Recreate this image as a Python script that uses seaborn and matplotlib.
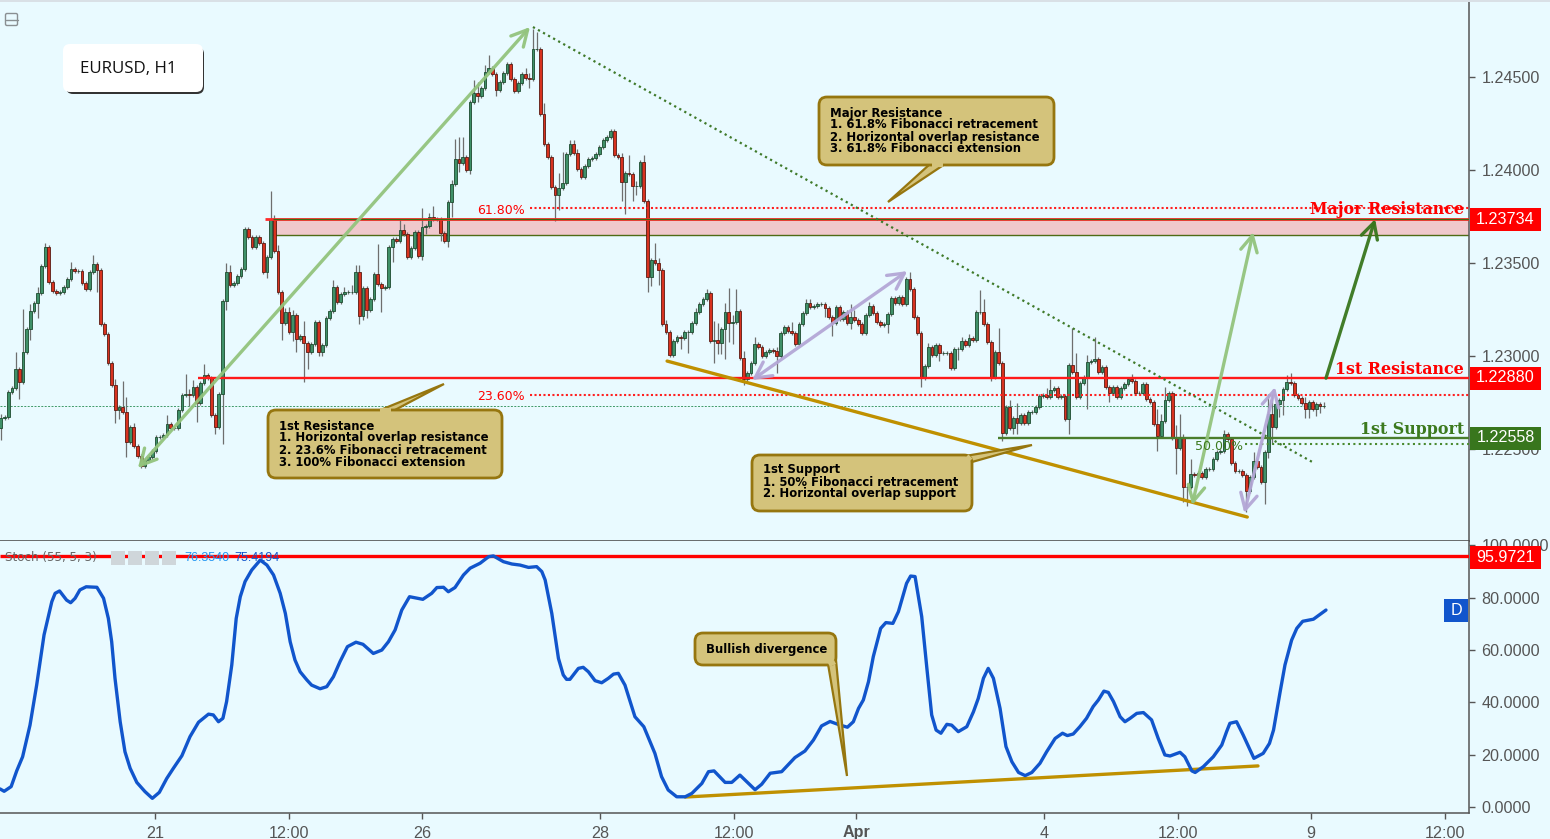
import numpy as np
import matplotlib
matplotlib.use("Agg")
import matplotlib.pyplot as plt
import seaborn as sns
from matplotlib.patches import FancyBboxPatch, Polygon, Rectangle

# ------------------ data ------------------
first_open = 1.22610
closes = [
1.22665,1.22670,1.22805,1.22827,1.22929,1.22859,1.23020,1.23144,1.23240,1.23284,1.23338,1.23483,1.23585,1.23397,1.23348,1.23338,1.23343,1.23370,1.23413,1.23467,
1.23456,1.23456,1.23391,1.23359,1.23450,1.23494,1.23461,1.23171,1.23117,1.22961,1.22843,1.22708,1.22724,1.22697,1.22536,1.22617,1.22515,1.22461,1.22407,1.22440,
1.22455,1.22488,1.22563,1.22563,1.22574,1.22633,1.22611,1.22611,1.22708,1.22789,1.22794,1.22789,1.22832,1.22746,1.22853,1.22896,1.22880,1.22681,1.22617,1.22794,
1.23295,1.23450,1.23381,1.23391,1.23429,1.23467,1.23682,1.23639,1.23585,1.23639,1.23607,1.23450,1.23531,1.23736,1.23564,1.23343,1.23176,1.23235,1.23128,1.23219,
1.23090,1.23106,1.23069,1.23020,1.23063,1.23182,1.23020,1.23058,1.23203,1.23240,1.23370,1.23290,1.23332,1.23343,1.23343,1.23343,1.23450,1.23214,1.23365,1.23246,
1.23305,1.23440,1.23386,1.23365,1.23370,1.23585,1.23628,1.23617,1.23677,1.23655,1.23531,1.23580,1.23666,1.23537,1.23693,1.23698,1.23747,1.23736,1.23736,1.23660,
1.23617,1.23827,1.23924,1.24059,1.24037,1.24069,1.24000,1.24365,1.24414,1.24398,1.24440,1.24527,1.24548,1.24516,1.24430,1.24473,1.24521,1.24570,1.24489,1.24424,
1.24467,1.24516,1.24494,1.24489,1.24650,1.24650,1.24300,1.24139,1.24069,1.23908,1.23865,1.23903,1.23929,1.24085,1.24139,1.24091,1.24005,1.23962,1.24021,1.24059,
1.24064,1.24085,1.24123,1.24161,1.24177,1.24209,1.24080,1.24069,1.23935,1.23983,1.23978,1.23913,1.23913,1.24042,1.23833,1.23424,1.23515,1.23499,1.23461,1.23171,
1.23128,1.23004,1.23079,1.23101,1.23096,1.23128,1.23128,1.23176,1.23235,1.23278,1.23305,1.23338,1.23079,1.23085,1.23069,1.23144,1.23235,1.23176,1.23182,1.23240,
1.22988,1.22875,1.22907,1.22961,1.23063,1.23047,1.22999,1.23020,1.23031,1.23026,1.22999,1.23123,1.23155,1.23133,1.23123,1.23063,1.23171,1.23230,1.23284,1.23262,
1.23268,1.23278,1.23278,1.23257,1.23209,1.23176,1.23262,1.23198,1.23235,1.23176,1.23209,1.23192,1.23171,1.23123,1.23219,1.23268,1.23230,1.23182,1.23166,1.23171,
1.23225,1.23311,1.23284,1.23316,1.23278,1.23413,1.23359,1.23209,1.23123,1.22880,1.22945,1.23047,1.23004,1.23058,1.23015,1.23015,1.23015,1.22934,1.23036,1.23036,
1.23079,1.23058,1.23096,1.23085,1.23235,1.23235,1.23171,1.23074,1.22886,1.23020,1.22961,1.22584,1.22724,1.22611,1.22665,1.22638,1.22681,1.22638,1.22697,1.22697,
1.22724,1.22784,1.22789,1.22778,1.22816,1.22827,1.22778,1.22784,1.22660,1.22950,1.22913,1.22778,1.22853,1.22886,1.22966,1.22972,1.22983,1.22913,1.22940,1.22832,
1.22800,1.22832,1.22778,1.22827,1.22848,1.22875,1.22864,1.22800,1.22800,1.22848,1.22767,1.22751,1.22633,1.22568,1.22649,1.22762,1.22800,1.22558,1.22504,1.22558,
1.22294,1.22294,1.22364,1.22359,1.22369,1.22348,1.22391,1.22391,1.22445,1.22482,1.22488,1.22579,1.22552,1.22423,1.22380,1.22380,1.22359,1.22272,1.22348,1.22434,
1.22402,1.22321,1.22482,1.22687,1.22617,1.22740,1.22762,1.22821,1.22859,1.22853,1.22789,1.22773,1.22746,1.22714,1.22751,1.22714,1.22740,1.22730,1.22730,
]
upper_wick_pips = {0:2,4:9,6:23,8:4,10:3,12:2,19:4,25:5,31:3,33:14,34:8,36:2,45:5,50:11,51:3,52:4,55:6,61:5,62:4,73:15,74:2,75:3,77:2,78:3,79:3,
    82:8,90:4,93:3,95:4,96:4,97:4,102:16,108:6,109:3,114:10,116:2,117:6,122:2,123:11,124:12,125:11,128:7,129:6,131:4,132:7,142:3,143:3,144:11,145:9,147:6,
    151:8,152:17,154:2,155:2,156:2,168:2,170:10,172:3,174:4,177:9,178:3,180:2,188:2,191:2,193:10,194:9,196:5,197:13,198:4,199:12,201:4,204:4,210:2,214:5,
    218:2,219:2,230:7,231:4,235:2,246:4,251:2,260:2,262:2,265:12,266:7,270:13,273:4,275:8,283:4,284:6,290:20,291:10,294:4,296:12,306:3,313:8,314:4,315:7,
    318:7,319:13,320:2,322:8,331:2,339:5,343:11,344:11,348:4,349:5,353:3,358:2}
lower_wick_pips = {0:6,5:9,8:6,10:8,26:12,31:7,32:5,34:8,51:6,53:10,58:4,60:27,61:5,72:3,76:9,79:5,80:7,82:21,83:9,86:2,87:2,97:4,98:2,99:4,103:13,
    106:8,114:2,115:4,119:4,121:3,122:8,124:5,127:2,129:3,134:3,143:5,150:14,151:8,168:10,169:17,171:8,172:5,175:8,176:5,178:8,184:6,186:11,193:12,194:6,
    195:6,196:16,197:10,198:11,201:3,210:9,223:5,225:7,230:3,240:5,249:5,254:4,259:6,268:2,271:4,274:3,275:6,289:8,294:17,300:5,313:8,318:14,320:8,321:10,
    337:11,342:12,343:3,344:9,346:7,347:8,353:5,354:5,356:4,357:4}

stoch_bars = [-0.2,0.9,2.8,4.3,5.9,7.9,9.7,11.7,13.8,14.7,15.9,17.8,18.9,20.1,21.4,23.1,26,27.8,29.1,30,30.9,32.3,33.6,35,36.8,39,41,42.9,44.9,46.7,49,51.2,53.5,56.2,57.5,58.9,60.1,61.1,62.5,63.7,64.8,66.1,67.9,70.2,72,73.8,75.6,77,78.3,79.6,81,82.8,84.1,86.4,88.2,90,91.8,93.8,96.1,98,100.8,103.1,104.9,106.7,108.5,110.6,114.2,116.6,118,119.8,121.1,122.9,125.2,127,129.7,132,133.3,136,138.3,140.5,
142.8,145,146.4,147.3,149.1,150.9,152.2,153.1,154,156.3,157.6,159,160.8,162.6,164.4,165.8,167.1,168.9,170.3,171.6,174,177,178.8,180.6,182.9,185.2,187,189.7,191.5,193,196,197.8,200,201.4,204.1,205.9,208.2,211.3,214.9,217.6,219.9,222.1,224.4,227.1,229.1,230.7,232.1,233.4,234.8,236.1,238.1,239.5,241.4,242.9,245.1,246.2,247.4,249.2,250.6,251.9,253.1,254.4,256,257.3,259.1,261.4,263.2,264.5,265.9,267.2,268.6,270.4,272,273.6,275.4,277.2,279,281.2,
283,285.3,287.3,288.6,290.2,292,293.8,295.6,297,298.5,299.7,301.1,302.9,304.2,305.6,307.4,309.2,311.4,313.2,315,316.4,319.1,320.4,322.3,323.2,325.4,328.1,330.4,331.7,332.6,334.4,336.2,339.1,341.6,343.3,344.4,346.2,347.5,349.3,350.7,352.3,355.2,358.6]
stoch_values = [6.9,6,7.8,13.8,19.2,31.3,46.6,65.8,78.5,81.7,82.6,79.1,78.1,79.8,83,84.2,84,79.8,72.1,63.2,49.2,32.6,21.1,14.8,9.4,5.9,3.3,5.6,10.9,14.8,19.6,26.9,32.4,35.5,35.2,32.6,33.9,40.3,54.3,72.1,80.4,86.2,90.6,94.4,92.5,88.7,81.7,74,63.2,56.2,51.7,48.6,46.6,45.2,46,49.8,55.6,61.3,63,62.2,58.7,60,63.2,67.7,75.3,80.4,79.4,81.7,83.9,84,82.3,83.9,88.7,91.3,93.2,95.7,96,93.8,92.9,92.5,
91.6,91.9,90,86.8,74,56.8,50.5,48.8,48.8,53,53.4,51.7,48.3,47.5,49.2,50.8,51.1,46.6,40.3,34.5,30.7,20.5,11.6,6.5,3.9,3.9,5.2,9,13.5,13.8,9.4,9.4,12.2,10.3,6.6,8.7,12.9,13.5,18.9,21.4,25.6,31,32.7,31.3,30.5,32.6,37.7,40.9,47.9,57.5,68.3,70.5,70.2,74.7,85.5,88.3,88.1,72.8,53,35.2,29.4,28.2,31.6,31.3,28.8,30.7,36.4,41.5,49.2,53,49.2,37.7,23.1,17.3,13.2,12,13.2,16.7,
21.1,26.2,28.2,27.3,27.9,30.7,33.9,38.4,40.9,44.3,43.8,40.3,34.5,32.6,33.9,35.8,36.1,33.3,26.2,19.9,19.5,20.9,19.2,13.8,13.2,15.4,19.2,23.7,28.8,32,32.6,27.5,18.6,20.5,24.3,29.4,44.1,54.3,63.8,68.3,71,71.8,75.3]

major_res = 1.23734
major_res_low = 1.23651
first_res = 1.22880
first_sup = 1.22558
fib_618 = 1.23795
fib_236 = 1.22790
fib_500 = 1.22526
last_price = 1.22730
stoch_level = 95.9721
price_ticks = [1.225, 1.230, 1.235, 1.240, 1.245]
stoch_ticks = [0, 20, 40, 60, 80, 100]
time_tick_bars = [41.7, 78, 114, 162.2, 198.4, 231.5, 282.3, 318.6, 354.6, 390.9]
time_tick_labels = ["21", "12:00", "26", "28", "12:00", "Apr", "4", "12:00", "9", "12:00"]

# ------------------ style ------------------
BG = "#e9faff"
GREY = "#555555"
sns.set_theme(style="white")
plt.rcParams["font.family"] = ["Liberation Sans", "DejaVu Sans"]
W, H = 1550, 839
fig = plt.figure(figsize=(W / 100, H / 100), dpi=100, facecolor=BG)

def axes_px(x0, y0, x1, y1, **kw):
    return fig.add_axes([x0 / W, 1 - y1 / H, (x1 - x0) / W, (y1 - y0) / H], **kw)

ax = axes_px(0, 1, 1469, 541, facecolor=BG)
ax2 = axes_px(0, 541, 1469, 813, facecolor=BG)
XLIM = (-0.22, 397.3)

# ------------------ candles ------------------
closes_a = np.array(closes)
opens_a = np.r_[first_open, closes_a[:-1]]
bars = np.arange(len(closes_a))
tops = np.maximum(opens_a, closes_a)
bots = np.minimum(opens_a, closes_a)
highs = tops + np.array([upper_wick_pips.get(i, 1) for i in bars]) * 1e-4
lows = bots - np.array([lower_wick_pips.get(i, 1) for i in bars]) * 1e-4
up = closes_a >= opens_a

# zone, levels
ax.axhspan(major_res_low, major_res, xmin=(73.7 - XLIM[0]) / (XLIM[1] - XLIM[0]), facecolor="#f0c8cc", edgecolor="none", zorder=1)
ax.hlines(major_res_low, 73.7, XLIM[1], color="#4f6b16", lw=1.0, zorder=2)
ax.vlines(bars, lows, highs, color="#6e6e6e", lw=0.9, zorder=3)
ax.bar(bars[up], (tops - bots)[up], bottom=bots[up], width=0.74, color="#3f9068", edgecolor="#1d4a2e", linewidth=0.6, zorder=4)
ax.bar(bars[~up], (tops - bots)[~up], bottom=bots[~up], width=0.74, color="#d8321f", edgecolor="#5a1a12", linewidth=0.6, zorder=4)

ax.hlines(major_res, 71.5, XLIM[1], color="#ff2a2a", lw=2.0, zorder=5)
ax.hlines(major_res, 73.7, XLIM[1], color="#3f6a10", lw=0.9, zorder=5)
ax.hlines(first_res, 53.4, XLIM[1], color="#ff1a1a", lw=1.7, zorder=5)
ax.hlines(first_sup, 269.9, XLIM[1], color="#4a7d2c", lw=1.7, zorder=5)
ax.hlines(fib_618, 143.2, XLIM[1], color="#ff2020", lw=1.5, linestyles=(0, (1, 1.15)), zorder=5)
ax.hlines(fib_236, 143.2, XLIM[1], color="#ff2020", lw=1.5, linestyles=(0, (1, 1.15)), zorder=5)
ax.hlines(fib_500, 336.7, XLIM[1], color="#4a8a30", lw=1.5, linestyles=(0, (1, 1.6)), zorder=5)
ax.hlines(last_price, XLIM[0], 358.4, color="#3f9a68", lw=0.7, linestyles=(0, (2, 1.5)), zorder=2)

# trend lines
sns.lineplot(x=[144, 354.9], y=[1.24769, 1.22429], ax=ax, color="#3f7a2a", lw=1.6, linestyle=(0, (1, 1.6)), zorder=5)
sns.lineplot(x=[180.3, 337.3], y=[1.22972, 1.22133], ax=ax, color="#bf9000", lw=2.4, zorder=6)
sns.lineplot(x=[185.2, 340.2], y=[3.8, 15.7], ax=ax2, color="#bf9000", lw=2.4, zorder=6)

def arrow(a, p0, p1, color, style="<->,head_length=0.38,head_width=0.2"):
    a.annotate("", xy=p1, xytext=p0, zorder=7,
               arrowprops=dict(arrowstyle=style, color=color, lw=2.4, shrinkA=0, shrinkB=0, mutation_scale=30, alpha=0.95))

arrow(ax, (37.1, 1.22396), (143.2, 1.24769), "#93c47d")
arrow(ax, (322.4, 1.22197), (338.9, 1.23666), "#93c47d")
arrow(ax, (203.3, 1.22870), (245.3, 1.23456), "#b4a7d6")
arrow(ax, (336.5, 1.22154), (344.8, 1.22832), "#b4a7d6")
arrow(ax, (358.6, 1.22880), (371.9, 1.23736), "#38761d", "->,head_length=0.38,head_width=0.2")

# ------------------ stochastic ------------------
ax2.hlines(stoch_level, XLIM[0], XLIM[1], color="#ff0000", lw=2.4, zorder=5)
sns.lineplot(x=stoch_bars, y=stoch_values, ax=ax2, sort=False, estimator=None, color="#1155cc", lw=2.4, zorder=6)

# ------------------ axes ------------------
ax.set_xlim(*XLIM); ax2.set_xlim(*XLIM)
ax.set_ylim(1.22004, 1.24909)
ax2.set_ylim(-2.3, 101.7)
for a in (ax, ax2):
    a.yaxis.tick_right()
    a.set_xlabel(""); a.set_ylabel("")
    for s in ("left", "top"):
        a.spines[s].set_visible(False)
    for s in ("right", "bottom"):
        a.spines[s].set_color(GREY); a.spines[s].set_linewidth(1.1)
    a.tick_params(axis="y", right=True, length=4, width=1, color=GREY, labelcolor=GREY, labelsize=11.6, pad=5)
ax.spines["bottom"].set_color("#444444")
ax.set_xticks([])
ax.set_yticks(price_ticks, [f"{v:.5f}" for v in price_ticks])
ax2.set_yticks(stoch_ticks, [f"{v:.4f}" for v in stoch_ticks])
ax2.set_xticks(time_tick_bars, time_tick_labels)
ax2.tick_params(axis="x", bottom=True, length=4, width=1, color=GREY, labelcolor=GREY, labelsize=11.6, pad=5)
ax2.get_xticklabels()[5].set_fontweight("bold")

# mask under the bottom-right of the scale (clips the 0.0000 label)
mask = axes_px(1470, 813.5, 1550, 824, facecolor=BG, zorder=3)
mask.set_xticks([]); mask.set_yticks([])
for s in mask.spines.values():
    s.set_visible(False)

# ------------------ annotation layer (pixel space) ------------------
ov = axes_px(0, 0, W, H, zorder=5)
ov.set_xlim(0, W); ov.set_ylim(H, 0); ov.axis("off"); ov.patch.set_alpha(0)

ov.add_patch(Rectangle((0, 0), W, 2, fc="#d9e0e6", ec="none"))
ov.add_patch(FancyBboxPatch((5.5, 13.5), 12, 12, boxstyle="round,pad=0,rounding_size=1.5", fc="none", ec="#8a8f92", lw=1))
ov.plot([5.5, 17.5], [19.5, 19.5], color="#8a8f92", lw=1)

# title box
ov.add_patch(FancyBboxPatch((66, 47), 138, 47, boxstyle="round,pad=0,rounding_size=7", fc="#333333", ec="none"))
ov.add_patch(FancyBboxPatch((63, 44), 140, 48, boxstyle="round,pad=0,rounding_size=7", fc="white", ec="none"))
ov.text(80, 69, "EURUSD, H1", fontsize=12.2, color="#111111", va="center", family="Open Sans")

# callouts
FILL, EDGE = "#d4c37b", "#96760f"
def callout(box, pointer, base, lines, tx, ty):
    x0, y0, x1, y1 = box
    ov.add_patch(Polygon(pointer, closed=True, fc=FILL, ec=EDGE, lw=1.6, zorder=3))
    ov.add_patch(FancyBboxPatch((x0, y0), x1 - x0, y1 - y0, boxstyle="round,pad=0,rounding_size=8", fc=FILL, ec=EDGE, lw=2, zorder=3))
    ov.plot(*zip(*base), color=FILL, lw=3, zorder=3, solid_capstyle="butt")
    for i, line in enumerate(lines):
        ov.text(tx, ty + 12 * i, line, fontsize=8.4, fontweight="bold", family="DejaVu Sans", color="#000000", va="center", zorder=4)

callout((268, 410, 502, 478), [(378, 411), (444, 384), (393, 411)], [(380, 410), (391, 410)],
        ["1st Resistance", "1. Horizontal overlap resistance", "2. 23.6% Fibonacci retracement", "3. 100% Fibonacci extension"], 279, 426)
callout((752, 455, 972, 511), [(965, 456), (1032, 445), (972, 462)], [(967, 456), (971, 460)],
        ["1st Support", "1. 50% Fibonacci retracement", "2. Horizontal overlap support"], 763, 470)
callout((819, 97, 1054, 165), [(930, 164), (888, 202), (945, 164)], [(932, 165), (943, 165)],
        ["Major Resistance", "1. 61.8% Fibonacci retracement", "2. Horizontal overlap resistance", "3. 61.8% Fibonacci extension"], 830, 113)
callout((695, 633, 836, 665), [(828, 664), (847, 776), (836, 660)], [(829, 665), (835, 662)],
        ["Bullish divergence"], 706, 649)

# level labels
for txt, y, col in [("Major Resistance", 210, "#ff0000"), ("1st Resistance", 369, "#ff0000"), ("1st Support", 429, "#3c7a1e")]:
    ov.text(1464, y, txt, ha="right", va="center", color=col, fontsize=11.4, fontweight="bold", family="DejaVu Serif")
ov.text(477, 210, "61.80%", color="#ff0000", fontsize=9, family="DejaVu Sans", va="center")
ov.text(477, 396, "23.60%", color="#ff0000", fontsize=9, family="DejaVu Sans", va="center")
ov.text(1195, 446, "50.00%", color="#3c7a1e", fontsize=9, family="DejaVu Sans", va="center")

# price tags
for txt, y, col in [("1.23734", 219, "#ff0000"), ("1.22880", 378, "#ff0000"), ("1.22558", 438, "#38761d"), ("95.9721", 557, "#ff0000")]:
    ov.add_patch(Rectangle((1470, y - 11), 71, 22.5, fc=col, ec="none"))
    ov.text(1505.5, y, txt, color="white", fontsize=11.6, ha="center", va="center")

# D badge
ov.add_patch(Rectangle((1444, 599), 24, 23, fc="#1155cc", ec="none"))
ov.text(1456, 610.5, "D", color="white", fontsize=11.6, ha="center", va="center")

# indicator legend
ov.text(5, 557, "Stoch (55, 5, 3)", color="#666666", fontsize=8.6, family="DejaVu Sans", va="center")
for x in (111, 128, 145, 162):
    ov.add_patch(Rectangle((x, 551), 14, 14, fc="#cfd6da", ec="none"))
ov.text(184, 558, "76.3540", color="#2196f3", fontsize=9, va="center")
ov.text(234, 558, "75.4194", color="#1155cc", fontsize=9, va="center")

fig.savefig("out.png", dpi=100, facecolor=BG)
